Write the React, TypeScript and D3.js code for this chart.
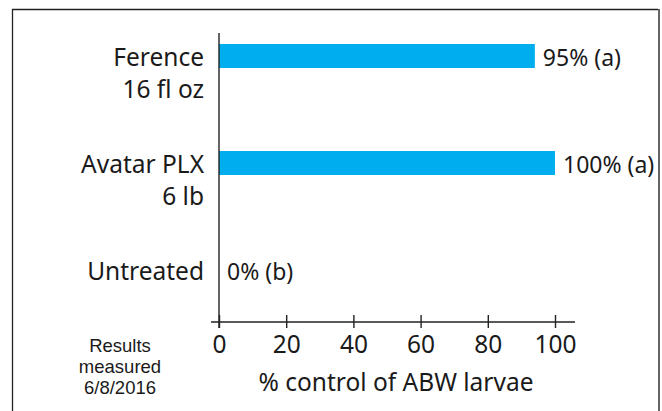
import React, { useEffect, useRef } from 'react';
import * as d3 from 'd3';

const categories = ['Ference\n16 fl oz', 'Avatar PLX\n6 lb', 'Untreated'];
const controlValues = [94, 100, 0];
const valueLabels = ['95% (a)', '100% (a)', '0% (b)'];
const xTicks = [0, 20, 40, 60, 80, 100];
const noteLines = ['Results', 'measured', '6/8/2016'];

const WIDTH = 662;
const HEIGHT = 411;
const FONT = '"Noto Sans", sans-serif';
const NOTE_FONT = '"Liberation Sans", Arial, sans-serif';
const BAR_COLOR = '#00aeef';
const INK = '#1a1a1a';

const App: React.FC = () => {
  const svgRef = useRef<SVGSVGElement>(null);

  useEffect(() => {
    if (!svgRef.current) return;
    const svg = d3.select(svgRef.current);
    svg.selectAll('*').remove();

    const left = 219;
    const right = 555;
    const axisY = 322;

    const x = d3.scaleLinear().domain([0, 100]).range([left, right]);
    const y = d3.scaleBand<string>()
      .domain(categories)
      .range([2.5, 323.5])
      .paddingInner(0.776)
      .paddingOuter(0.388);

    // frame
    svg.append('path')
      .attr('d', `M12.5,${HEIGHT} V9.5 H658`)
      .attr('fill', 'none')
      .attr('stroke', '#222')
      .attr('stroke-width', 1.3);
    svg.append('line')
      .attr('x1', 659).attr('x2', 659)
      .attr('y1', 9).attr('y2', HEIGHT)
      .attr('stroke', '#666')
      .attr('stroke-width', 2);

    // bars
    svg.selectAll('rect.bar')
      .data(categories)
      .enter()
      .append('rect')
      .attr('class', 'bar')
      .attr('x', x(0))
      .attr('y', d => y(d) as number)
      .attr('width', (_, i) => x(controlValues[i]) - x(0))
      .attr('height', y.bandwidth())
      .attr('fill', BAR_COLOR);

    // y axis line
    svg.append('line')
      .attr('x1', x(0)).attr('x2', x(0))
      .attr('y1', 33).attr('y2', axisY + 6)
      .attr('stroke', '#222')
      .attr('stroke-width', 1.4);

    // x axis
    const xAxis = svg.append('g')
      .attr('transform', `translate(0,${axisY})`)
      .call(d3.axisBottom(x).tickValues(xTicks).tickSize(0).tickPadding(14).tickFormat(d => String(d)));
    xAxis.select('.domain').remove();
    xAxis.append('line')
      .attr('x1', 211).attr('x2', 575)
      .attr('stroke', '#222')
      .attr('stroke-width', 1.4);
    xAxis.selectAll('.tick line')
      .attr('y1', -7).attr('y2', 6)
      .attr('stroke', '#222')
      .attr('stroke-width', 1.4);
    xAxis.selectAll('.tick text')
      .attr('font-family', FONT)
      .attr('font-size', 24.5)
      .attr('fill', INK)
      .attr('dy', '0.68em');

    // category labels
    categories.forEach(c => {
      const lines = c.split('\n');
      const cy = (y(c) as number) + y.bandwidth() / 2;
      lines.forEach((ln, j) => {
        svg.append('text')
          .attr('x', 204)
          .attr('y', cy + 9.5 + j * 32)
          .attr('text-anchor', 'end')
          .attr('font-family', FONT)
          .attr('font-size', 24.5)
          .attr('fill', INK)
          .text(ln);
      });
    });

    // value labels
    svg.selectAll('text.val')
      .data(categories)
      .enter()
      .append('text')
      .attr('class', 'val')
      .attr('x', (_, i) => x(controlValues[i]) + 8)
      .attr('y', d => (y(d) as number) + y.bandwidth() / 2 + 9.5)
      .attr('font-family', FONT)
      .attr('font-size', 23)
      .attr('fill', INK)
      .text((_, i) => valueLabels[i]);

    // axis title
    svg.append('text')
      .attr('x', 396)
      .attr('y', 391)
      .attr('text-anchor', 'middle')
      .attr('font-family', FONT)
      .attr('font-size', 24.5)
      .attr('fill', INK)
      .text('% control of ABW larvae');

    // note
    noteLines.forEach((ln, i) => {
      svg.append('text')
        .attr('x', 120)
        .attr('y', 352 + i * 20.8)
        .attr('text-anchor', 'middle')
        .attr('font-family', NOTE_FONT)
        .attr('font-size', 18.5)
        .attr('fill', INK)
        .text(ln);
    });
  }, []);

  return (
    <svg
      ref={svgRef}
      width={WIDTH}
      height={HEIGHT}
      style={{ position: 'absolute', left: 0, top: 0, background: '#fff' }}
    />
  );
};

export default App;
